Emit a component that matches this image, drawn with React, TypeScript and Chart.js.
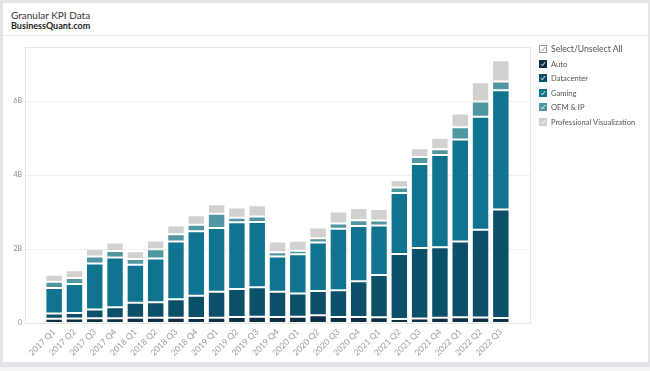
import React, { useEffect, useRef } from "react";
import { Chart, registerables } from "chart.js";

Chart.register(...registerables);

// Revenue by segment, $ millions
const categories = [
  "2017 Q1", "2017 Q2", "2017 Q3", "2017 Q4",
  "2018 Q1", "2018 Q2", "2018 Q3", "2018 Q4",
  "2019 Q1", "2019 Q2", "2019 Q3", "2019 Q4",
  "2020 Q1", "2020 Q2", "2020 Q3", "2020 Q4",
  "2021 Q1", "2021 Q2", "2021 Q3", "2021 Q4",
  "2022 Q1", "2022 Q2", "2022 Q3",
];
const autoValues = [113, 119, 127, 128, 140, 142, 144, 132, 145, 161, 172, 163, 166, 209, 162, 163, 155, 111, 125, 145, 154, 152, 135];
const datacenterValues = [143, 151, 240, 296, 409, 416, 501, 606, 701, 760, 792, 679, 634, 655, 726, 968, 1141, 1752, 1900, 1903, 2048, 2366, 2936];
const gamingValues = [687, 781, 1244, 1348, 1027, 1186, 1561, 1739, 1723, 1805, 1764, 954, 1055, 1313, 1659, 1491, 1339, 1654, 2271, 2495, 2760, 3059, 3221];
const oemIpValues = [173, 163, 186, 176, 156, 251, 191, 180, 387, 116, 148, 116, 99, 111, 143, 152, 138, 146, 194, 153, 327, 411, 234];
const proVizValues = [189, 214, 207, 225, 205, 235, 239, 254, 251, 281, 305, 293, 266, 291, 324, 331, 307, 203, 236, 307, 372, 519, 577];

const seriesNames = ["Auto", "Datacenter", "Gaming", "OEM & IP", "Professional Visualization"];
const seriesColors = ["#0c2f47", "#0b5068", "#107490", "#5097a2", "#d3d1cf"];
const seriesValues = [autoValues, datacenterValues, gamingValues, oemIpValues, proVizValues];

const yTickValues = [0, 2000, 4000, 6000];
const Y_MAX = 7460;

const FONT = "Lato, 'Open Sans', sans-serif";
const GRID_COLOR = "#efefef";
const FRAME_COLOR = "#e6e6e6";
const FRAME_PAD = 19;

const framePlugin = {
  id: "frame",
  beforeDatasetsDraw(chart: any) {
    const { ctx, chartArea: a, scales } = chart;
    const y = scales.y;
    const l = Math.round(a.left - FRAME_PAD) + 0.5;
    const r = Math.round(a.right + FRAME_PAD) + 0.5;
    ctx.save();
    ctx.lineWidth = 1;
    ctx.strokeStyle = GRID_COLOR;
    y.ticks.forEach((t: any) => {
      if (t.value === 0) return;
      const py = Math.round(y.getPixelForValue(t.value)) + 0.5;
      ctx.beginPath();
      ctx.moveTo(l, py);
      ctx.lineTo(r, py);
      ctx.stroke();
    });
    ctx.strokeStyle = FRAME_COLOR;
    const top = Math.round(a.top) + 0.5;
    const bottom = Math.round(a.bottom) + 0.5;
    ctx.strokeRect(l, top, r - l, bottom - top);
    ctx.restore();
  },
};

function Check({ color }: { color: string }) {
  return (
    <svg width="8" height="8" viewBox="0 0 8 8" style={{ position: "absolute", left: 0, top: 0 }}>
      <polyline points="2,4.3 3.4,5.8 6,2.2" fill="none" stroke={color} strokeWidth="0.9" />
    </svg>
  );
}

export default function App() {
  const ref = useRef<HTMLCanvasElement>(null);

  useEffect(() => {
    if (!ref.current) return;
    const chart = new Chart(ref.current, {
      type: "bar",
      data: {
        labels: categories,
        datasets: seriesNames.map((name, i) => ({
          label: name,
          data: seriesValues[i],
          backgroundColor: seriesColors[i],
          borderColor: "rgba(255,255,255,0.35)",
          borderWidth: 1,
          borderSkipped: false,
          barPercentage: 0.86,
          categoryPercentage: 1,
        })),
      },
      options: {
        responsive: false,
        animation: false,
        devicePixelRatio: 1,
        layout: { padding: { left: 0, right: 139, top: 47, bottom: 8 } },
        plugins: {
          legend: { display: false },
          tooltip: { enabled: false },
          title: { display: false },
        },
        scales: {
          x: {
            stacked: true,
            grid: { display: false, drawTicks: false },
            border: { display: false },
            ticks: {
              autoSkip: false,
              maxRotation: 45,
              minRotation: 45,
              padding: 4,
              color: "#9a9a9a",
              font: { family: FONT, size: 8.5 },
            },
            afterFit: (s: any) => {
              s.height = 40;
            },
          },
          y: {
            stacked: true,
            min: 0,
            max: Y_MAX,
            grid: { display: false, drawTicks: false },
            border: { display: false },
            afterBuildTicks: (s: any) => {
              s.ticks = yTickValues.map((v) => ({ value: v }));
            },
            ticks: {
              padding: 22,
              color: "#8a8a8a",
              font: { family: FONT, size: 7 },
              callback: (v: any) => (Number(v) === 0 ? "0" : Number(v) / 1000 + "B"),
            },
            afterFit: (s: any) => {
              s.width = 44;
            },
          },
        },
      },
      plugins: [framePlugin],
    });
    return () => chart.destroy();
  }, []);

  const legendRows = [
    { label: "Select/Unselect All", fill: "#ffffff", border: "#9a9a9a", check: "#9a9a9a" },
    ...seriesNames.map((n, i) => ({ label: n, fill: seriesColors[i], border: seriesColors[i], check: "#ffffff" })),
  ];

  return (
    <div
      style={{
        position: "fixed",
        left: 0,
        top: 0,
        width: 650,
        height: 371,
        background: "#e3e5e8",
        fontFamily: FONT,
        overflow: "hidden",
      }}
    >
      <div style={{ position: "absolute", left: 0, top: 367, width: 650, height: 4, background: "#f4f4f4" }} />
      <div style={{ position: "absolute", left: 3, top: 3, width: 645, height: 359, background: "#ffffff" }} />
      <div style={{ position: "absolute", left: 3, top: 35, width: 645, height: 1, background: "#ececec" }} />
      <div style={{ position: "absolute", left: 11, top: 9, fontSize: 10, color: "#333", lineHeight: "12px", whiteSpace: "nowrap" }}>
        Granular KPI Data
      </div>
      <div style={{ position: "absolute", left: 11, top: 20, fontSize: 9, color: "#222", fontWeight: 700, lineHeight: "11px", whiteSpace: "nowrap" }}>
        BusinessQuant.com
      </div>
      <canvas ref={ref} width={650} height={371} style={{ position: "absolute", left: 0, top: 0, width: 650, height: 371 }} />
      <div style={{ position: "absolute", left: 539, top: 44 }}>
        {legendRows.map((r, i) => (
          <div key={i} style={{ position: "absolute", left: 0, top: i * 14.6, height: 10, whiteSpace: "nowrap" }}>
            <div
              style={{
                position: "absolute",
                left: 0,
                top: 1,
                width: 8,
                height: 8,
                boxSizing: "border-box",
                background: r.fill,
                border: `1px solid ${r.border}`,
              }}
            >
              <div style={{ position: "absolute", left: -1, top: -1 }}>
                <Check color={r.check} />
              </div>
            </div>
            <span
              style={{
                position: "absolute",
                left: 12,
                top: 0,
                fontSize: i === 0 ? 8.6 : 7.6,
                lineHeight: "10px",
                color: "#555",
              }}
            >
              {r.label}
            </span>
          </div>
        ))}
      </div>
    </div>
  );
}
